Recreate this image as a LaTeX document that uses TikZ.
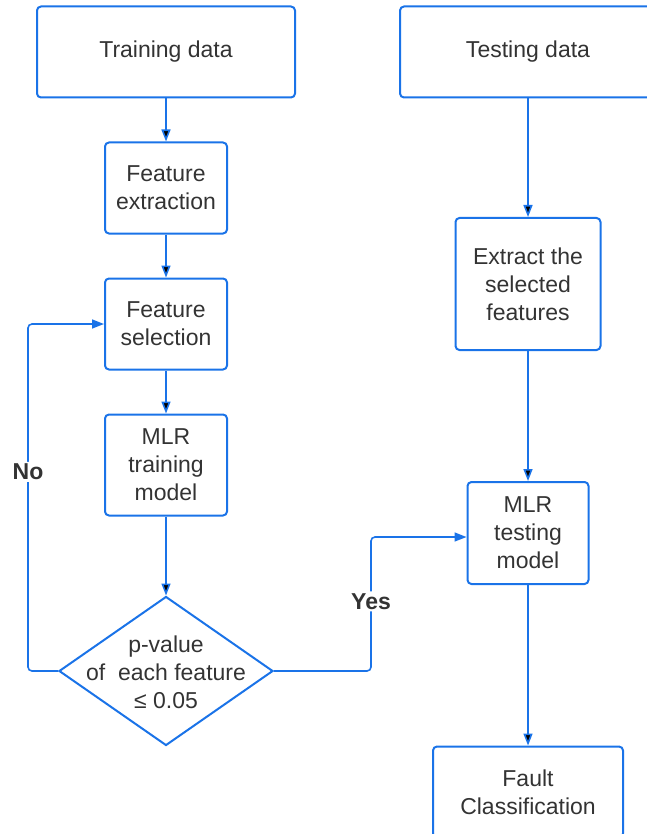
\documentclass[tikz,border=0pt]{standalone}
\usepackage{fontspec}
\setmainfont{Liberation Sans}
\usepackage{xcolor}
\usetikzlibrary{positioning,arrows.meta,shapes.geometric}
\definecolor{flowblue}{HTML}{1A73E8}
\definecolor{inkgrey}{HTML}{333333}

\begin{document}
\begin{tikzpicture}[x=1pt, y=-1pt, on grid,
    font=\fontsize{23}{28}\selectfont, text=inkgrey,
    box/.style={draw=flowblue, line width=2pt, rounded corners=4pt, align=center, inner sep=0pt},
    decision/.style={draw=flowblue, line width=2pt, diamond, inner sep=0pt, minimum width=214pt, minimum height=149pt},
    flow/.style={draw=flowblue, line width=1.6pt, rounded corners=4pt, -{Triangle[length=12pt,width=9pt]}},
    tag/.style={fill=white, font=\fontsize{23}{28}\selectfont\bfseries, inner sep=2pt}]

    \useasboundingbox (0,0) rectangle (646,834);

    % left column
    \node[box, minimum width=258pt, minimum height=91pt] (train) at (166,52) {Training data};
    \node[box, minimum width=122pt, minimum height=91pt] (featext) [below=136pt of train] {Feature\\extraction};
    \node[box, minimum width=122pt, minimum height=91pt] (featsel) [below=136pt of featext] {Feature\\selection};
    \node[box, minimum width=122pt, minimum height=101pt] (mlrtrain) [below=141pt of featsel] {MLR\\training\\model};
    \node[decision, label={[align=center, yshift=-1pt]center:p-value\\of\ \ each feature\\≤ 0.05}] (pval) [below=206pt of mlrtrain] {};

    % right column
    \node[box, minimum width=256pt, minimum height=91pt] (test) at (528,52) {Testing data};
    \node[box, minimum width=145pt, minimum height=132pt] (extract) [below=232pt of test] {Extract the\\selected\\features};
    \node[box, minimum width=121pt, minimum height=102pt] (mlrtest) [below=249pt of extract] {MLR\\testing\\model};
    \node[box, minimum width=190pt, minimum height=91pt] (fault) [below=259pt of mlrtest] {Fault\\Classification};

    \path[flow]
        (train) edge (featext)
        (featext) edge (featsel)
        (featsel) edge (mlrtrain)
        (mlrtrain) edge (pval)
        (test) edge (extract)
        (extract) edge (mlrtest)
        (mlrtest) edge (fault);

    \draw[flow] (pval.west) -- ++(-30,0) |- node[tag, pos=0.287] {No} (featsel.west);
    \draw[flow] (pval.east) -- ++(97,0) |- node[tag, pos=0.26] {Yes} ([yshift=-4pt]mlrtest.west);

\end{tikzpicture}
\end{document}
